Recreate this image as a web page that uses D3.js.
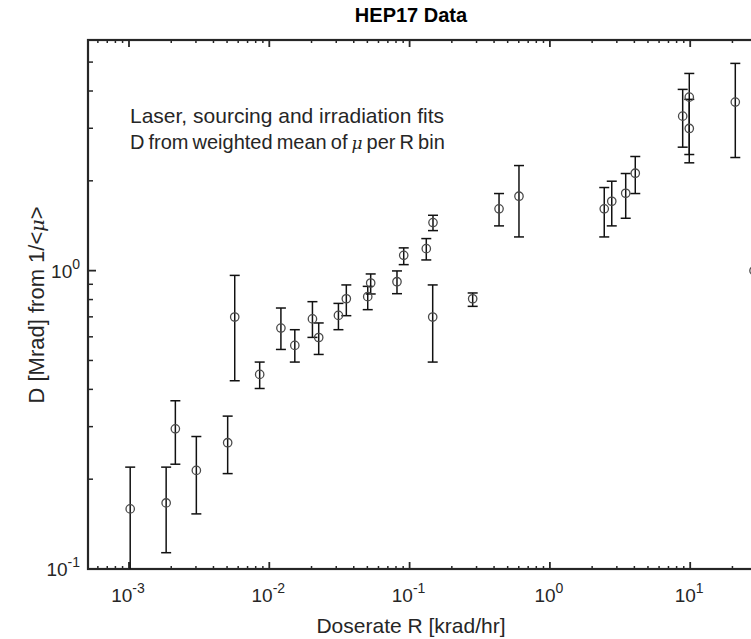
<!DOCTYPE html>
<html>
<head>
<meta charset="utf-8">
<script src="https://cdn.jsdelivr.net/npm/d3@7"></script>
<style>
  html, body { margin: 0; padding: 0; background: #fff; }
  svg { display: block; font-family: "Liberation Sans", Arial, Helvetica, sans-serif; }
</style>
</head>
<body>
<svg id="chart" width="751" height="639"></svg>
<script>
// dose rate R [krad/hr]
var doserate = [0.00102, 0.00184, 0.00214, 0.00302, 0.00505, 0.00567, 0.00854, 0.0121, 0.0152, 0.0203,
                0.0225, 0.0311, 0.0354, 0.0503, 0.0528, 0.0813, 0.0908, 0.1315, 0.1468, 0.1461,
                0.2816, 0.434, 0.602, 2.44, 2.76, 3.47, 4.06, 8.84, 9.85, 9.85, 20.96, 28.5];
// D [Mrad]
var dose = [0.159, 0.1665, 0.295, 0.214, 0.265, 0.699, 0.449, 0.642, 0.5615, 0.689,
            0.597, 0.708, 0.805, 0.818, 0.909, 0.918, 1.1255, 1.185, 1.449, 0.699,
            0.805, 1.611, 1.776, 1.611, 1.708, 1.817, 2.121, 3.295, 3.815, 2.996, 3.671, 1.0];
var doseLow = [0.09, 0.1134, 0.2245, 0.153, 0.2088, 0.4275, 0.4027, 0.5443, 0.4938, 0.5974,
               0.5237, 0.634, 0.7063, 0.740, 0.8352, 0.837, 1.0474, 1.086, 1.362, 0.4938,
               0.7591, 1.4125, 1.297, 1.297, 1.4125, 1.498, 1.813, 2.593, 2.298, 2.45, 2.394, 1.0];
var doseHigh = [0.2195, 0.2195, 0.3663, 0.278, 0.3254, 0.964, 0.4938, 0.7494, 0.6339, 0.787,
                0.6678, 0.7766, 0.8955, 0.8857, 0.9747, 0.9977, 1.192, 1.2806, 1.533, 0.8955,
                0.8417, 1.813, 2.25, 1.899, 1.994, 2.116, 2.413, 4.05, 4.58, 3.75, 4.95, 1.0];

var xDecades = [-3, -2, -1, 0, 1];
var yDecades = [-1, 0];

var svg = d3.select("#chart");
// plot box (top edge is named boxTop, window.top is reserved)
var boxLeft = 88, boxTop = 40, boxBottom = 569, boxRight = 800;

var x = d3.scaleLog().domain([Math.pow(10, -3.2922), Math.pow(10, 1.7826)]).range([boxLeft, boxRight]);
var y = d3.scaleLog().domain([0.1, Math.pow(10, 0.773)]).range([boxBottom, boxTop]);

var ink = "#262626";

svg.append("defs").append("clipPath").attr("id", "plotclip")
  .append("rect").attr("x", boxLeft).attr("y", boxTop)
  .attr("width", boxRight - boxLeft).attr("height", boxBottom - boxTop);

// minor / major tick positions
var xMinor = [], yMinor = [];
for (var e = -4; e <= 2; e++) {
  for (var m = 2; m <= 9; m++) {
    var v = m * Math.pow(10, e);
    if (v > x.domain()[0] && v < x.domain()[1]) xMinor.push(v);
    if (v > y.domain()[0] && v < y.domain()[1]) yMinor.push(v);
  }
}
var ticks = svg.append("g").attr("stroke", ink);
xMinor.forEach(function(v) {
  ticks.append("line").attr("x1", x(v)).attr("x2", x(v)).attr("y1", boxBottom).attr("y2", boxBottom - 3).attr("stroke-width", 1.5);
  ticks.append("line").attr("x1", x(v)).attr("x2", x(v)).attr("y1", boxTop).attr("y2", boxTop + 3).attr("stroke-width", 1.5);
});
xDecades.forEach(function(d) {
  var v = Math.pow(10, d);
  ticks.append("line").attr("x1", x(v)).attr("x2", x(v)).attr("y1", boxBottom).attr("y2", boxBottom - 7).attr("stroke-width", 1.8);
  ticks.append("line").attr("x1", x(v)).attr("x2", x(v)).attr("y1", boxTop).attr("y2", boxTop + 7).attr("stroke-width", 1.8);
});
yMinor.forEach(function(v) {
  ticks.append("line").attr("x1", boxLeft).attr("x2", boxLeft + 5).attr("y1", y(v)).attr("y2", y(v)).attr("stroke-width", 1.5);
});
yDecades.forEach(function(d) {
  var v = Math.pow(10, d);
  ticks.append("line").attr("x1", boxLeft).attr("x2", boxLeft + 8).attr("y1", y(v)).attr("y2", y(v)).attr("stroke-width", 1.8);
});

// box
svg.append("rect").attr("x", boxLeft).attr("y", boxTop)
  .attr("width", boxRight - boxLeft).attr("height", boxBottom - boxTop)
  .attr("fill", "none").attr("stroke", ink).attr("stroke-width", 2.2);

// tick labels
xDecades.forEach(function(d) {
  var t = svg.append("text").attr("x", x(Math.pow(10, d)) - 1).attr("y", 602)
    .attr("text-anchor", "middle").attr("fill", ink).attr("font-size", 19);
  t.append("tspan").text("10");
  t.append("tspan").attr("dy", -9).attr("font-size", 14).text(d);
});
yDecades.forEach(function(d) {
  var t = svg.append("text").attr("x", 80).attr("y", y(Math.pow(10, d)) + 7)
    .attr("text-anchor", "end").attr("fill", ink).attr("font-size", 19);
  t.append("tspan").text("10");
  t.append("tspan").attr("dy", -9).attr("font-size", 14).text(d);
});

// data
var pts = doserate.map(function(r, i) {
  return {r: r, d: dose[i], lo: doseLow[i], hi: doseHigh[i]};
});
var plot = svg.append("g").attr("clip-path", "url(#plotclip)");
var bars = plot.append("g").attr("stroke", "#111").attr("stroke-width", 1.5);
pts.forEach(function(p) {
  if (p.hi === p.lo) return;
  bars.append("line").attr("x1", x(p.r)).attr("x2", x(p.r)).attr("y1", y(p.lo)).attr("y2", y(p.hi));
  bars.append("line").attr("x1", x(p.r) - 5).attr("x2", x(p.r) + 5).attr("y1", y(p.lo)).attr("y2", y(p.lo));
  bars.append("line").attr("x1", x(p.r) - 5).attr("x2", x(p.r) + 5).attr("y1", y(p.hi)).attr("y2", y(p.hi));
});
plot.append("g").selectAll("circle").data(pts).enter().append("circle")
  .attr("cx", function(p) { return x(p.r); })
  .attr("cy", function(p) { return y(p.d); })
  .attr("r", 4.2)
  .attr("fill", "none").attr("stroke", "#4a4a4a").attr("stroke-width", 1.3);

// annotation
svg.append("text").attr("x", 130).attr("y", 123).attr("fill", ink).attr("font-size", 21)
  .text("Laser, sourcing and irradiation fits");
var ann = svg.append("text").attr("x", 130).attr("y", 149).attr("fill", ink).attr("font-size", 20)
  .attr("word-spacing", -1.5);
ann.append("tspan").text("D from weighted mean of ");
ann.append("tspan").attr("font-style", "italic").attr("font-family", "DejaVu Serif, serif").attr("font-size", 17).text("\u03bc");
ann.append("tspan").text(" per R bin");

// title and axis labels
svg.append("text").attr("x", 411).attr("y", 22).attr("text-anchor", "middle")
  .attr("font-weight", "bold").attr("font-size", 20).attr("fill", "#000").text("HEP17 Data");
svg.append("text").attr("x", 411).attr("y", 633).attr("text-anchor", "middle")
  .attr("font-size", 21).attr("fill", ink).text("Doserate R [krad/hr]");
var yl = svg.append("text").attr("transform", "translate(44,305) rotate(-90)").attr("text-anchor", "middle")
  .attr("font-size", 22).attr("fill", ink);
yl.append("tspan").text("D [Mrad] from 1/<");
yl.append("tspan").attr("font-style", "italic").attr("font-family", "DejaVu Serif, serif").attr("font-size", 19).text("\u03bc");
yl.append("tspan").text(">");
</script>
</body>
</html>
